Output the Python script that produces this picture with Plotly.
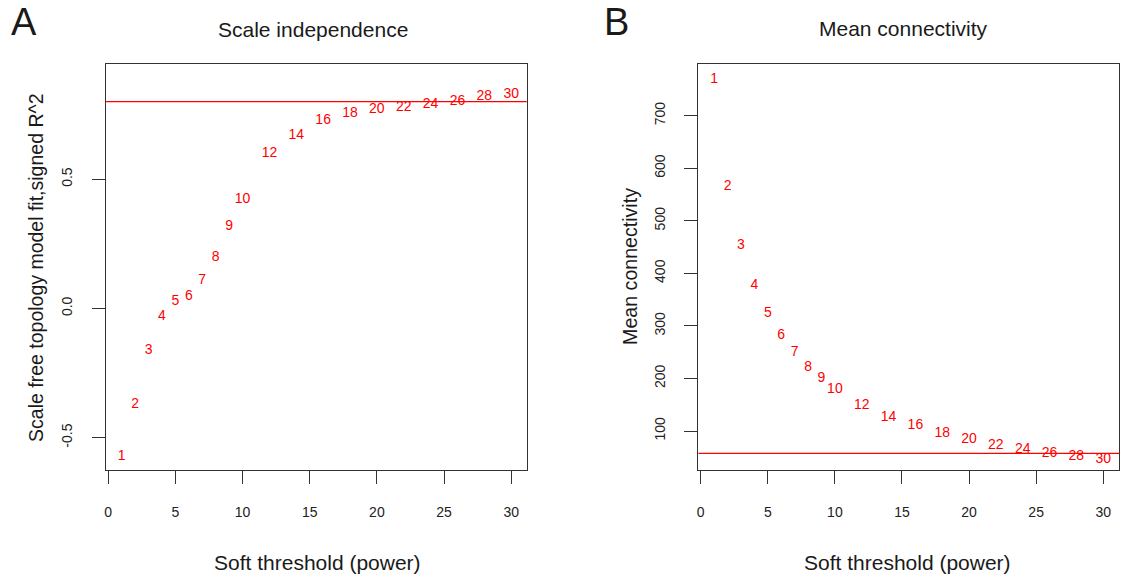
import plotly.graph_objects as go

W, H = 1121, 581

# ---- data ----
powers = [1, 2, 3, 4, 5, 6, 7, 8, 9, 10, 12, 14, 16, 18, 20, 22, 24, 26, 28, 30]
signed_r2 = [-0.571, -0.370, -0.163, -0.032, 0.026, 0.046, 0.110, 0.198, 0.317, 0.423,
             0.598, 0.671, 0.726, 0.755, 0.768, 0.777, 0.791, 0.800, 0.820, 0.826]
mean_k = [769.3, 564.9, 452.7, 376.6, 322.7, 280.9, 248.5, 221.3, 199.0, 179.4,
          148.2, 126.1, 109.6, 94.4, 83.0, 72.1, 64.5, 57.6, 51.2, 46.3]
r2_cut = 0.80
k_line = 57.6
x_ticks = [0, 5, 10, 15, 20, 25, 30]
r2_ticks = [-0.5, 0.0, 0.5]
r2_ticktext = ["-0.5", "0.0", "0.5"]
k_ticks = [100, 200, 300, 400, 500, 600, 700]

FONT = "Liberation Sans, Arial, Helvetica, sans-serif"
RED = "#ff0000"
INK = "#1a1a1a"


def px_x(p):
    return p / W


def px_y(p):
    return 1 - p / H


fig = go.Figure()
fig.add_trace(go.Scatter(x=powers, y=signed_r2, mode="text",
                         text=[str(p) for p in powers],
                         textfont=dict(family=FONT, size=14, color=RED),
                         xaxis="x", yaxis="y", showlegend=False, hoverinfo="skip"))
fig.add_trace(go.Scatter(x=powers, y=mean_k, mode="text",
                         text=[str(p) for p in powers],
                         textfont=dict(family=FONT, size=14, color=RED),
                         xaxis="x2", yaxis="y2", showlegend=False, hoverinfo="skip"))

fig.add_shape(type="line", xref="x domain", yref="y", x0=0, x1=1, y0=r2_cut, y1=r2_cut,
              line=dict(color=RED, width=1.3))
fig.add_shape(type="line", xref="x2 domain", yref="y2", x0=0, x1=1, y0=k_line, y1=k_line,
              line=dict(color=RED, width=1.3))

ydom = [px_y(470), px_y(63.7)]
axis_common = dict(showgrid=False, zeroline=False, showline=True, mirror=True,
                   linecolor="#333333", linewidth=1.2, ticks="outside", ticklen=13,
                   tickcolor="#333333", tickwidth=1.2,
                   tickfont=dict(family=FONT, size=14, color="#222222"))

fig.update_layout(
    width=W, height=H, margin=dict(l=0, r=0, t=0, b=0),
    paper_bgcolor="white", plot_bgcolor="white",
    xaxis=dict(domain=[px_x(104.3), px_x(525.7)], range=[-0.16, 31.16],
               tickvals=x_ticks, anchor="y", ticklabelstandoff=16, **axis_common),
    yaxis=dict(domain=ydom, range=[-0.625, 0.947], tickvals=r2_ticks,
               ticktext=r2_ticktext, tickangle=-90, anchor="x",
               ticklabelstandoff=14, **axis_common),
    xaxis2=dict(domain=[px_x(697.7), px_x(1119.3)], range=[-0.17, 31.2],
                tickvals=x_ticks, anchor="y2", ticklabelstandoff=16, **axis_common),
    yaxis2=dict(domain=ydom, range=[25.8, 798.9], tickvals=k_ticks,
                tickangle=-90, anchor="x2", ticklabelstandoff=14, **axis_common),
)


def ann(text, x, y, size, angle=0):
    fig.add_annotation(text=text, x=px_x(x), y=px_y(y), xref="paper", yref="paper",
                       showarrow=False, xanchor="center", yanchor="middle",
                       textangle=angle, font=dict(family=FONT, size=size, color=INK))


ann("A", 22, 22, 38)
ann("B", 616, 22, 38)
ann("Scale independence", 312, 29, 21)
ann("Mean connectivity", 903, 28, 21)
ann("Soft threshold (power)", 316, 562, 21)
ann("Soft threshold (power)", 907, 562, 21)
ann("Scale free topology model fit,signed R^2", 34, 268, 19.5, -90)
ann("Mean connectivity", 629, 266, 19.6, -90)

fig.write_html("out.html", config={"displayModeBar": False},
               post_script="document.body.style.margin='0';")
